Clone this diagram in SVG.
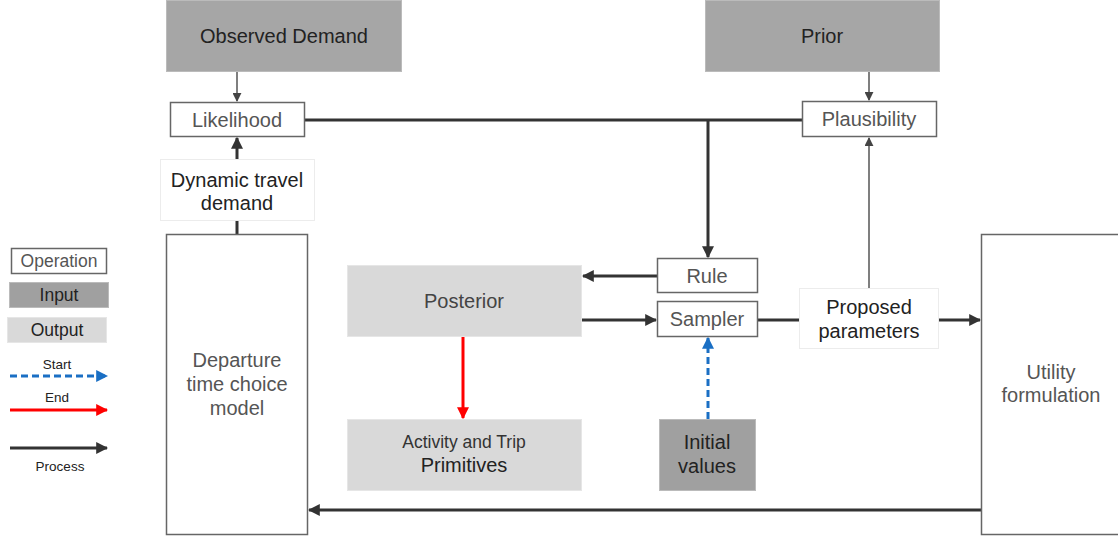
<svg xmlns="http://www.w3.org/2000/svg" width="1118" height="537" viewBox="0 0 1118 537">
  <defs>
    <style>
      text { font-family: "Liberation Sans", Arial, sans-serif; text-anchor: middle; }
      .op { fill: #ffffff; stroke: #666666; stroke-width: 1.5; }
      .op-text { fill: #555555; font-size: 20px; }
      .in { fill: #a6a6a6; stroke: #bbbbbb; stroke-width: 1; }
      .out { fill: #d9d9d9; stroke: #e6e6e6; stroke-width: 1; }
      .dark-text { fill: #222222; font-size: 20px; }
      .soft { fill: #ffffff; stroke: #ececec; stroke-width: 1; }
      .proc { stroke: #333333; stroke-width: 3; fill: none; }
      .thin { stroke: #555555; stroke-width: 1.5; fill: none; }
      .start { stroke: #1a6fc4; stroke-width: 3; stroke-dasharray: 7 4; fill: none; }
      .end { stroke: #ff0000; stroke-width: 3; fill: none; }
      .legend-label { fill: #222222; font-size: 13.5px; }
    </style>
    <marker id="ah" viewBox="0 0 10 10" refX="9" refY="5" markerWidth="4" markerHeight="4" orient="auto" markerUnits="strokeWidth">
      <path d="M0,0 L10,5 L0,10 z" fill="#333333"/>
    </marker>
    <marker id="ah-thin" viewBox="0 0 10 10" refX="9" refY="5" markerWidth="6" markerHeight="6" orient="auto" markerUnits="strokeWidth">
      <path d="M0,0 L10,5 L0,10 z" fill="#444444"/>
    </marker>
    <marker id="ah-blue" viewBox="0 0 10 10" refX="9" refY="5" markerWidth="4" markerHeight="4" orient="auto" markerUnits="strokeWidth">
      <path d="M0,0 L10,5 L0,10 z" fill="#1a6fc4"/>
    </marker>
    <marker id="ah-red" viewBox="0 0 10 10" refX="9" refY="5" markerWidth="4" markerHeight="4" orient="auto" markerUnits="strokeWidth">
      <path d="M0,0 L10,5 L0,10 z" fill="#ff0000"/>
    </marker>
  </defs>

  <rect width="1118" height="537" fill="#ffffff"/>

  <!-- connectors -->
  <g id="connectors">
    <line class="thin" x1="237" y1="72" x2="237" y2="101" marker-end="url(#ah-thin)"/>
    <line class="thin" x1="869" y1="72" x2="869" y2="100" marker-end="url(#ah-thin)"/>
    <line class="proc" x1="304" y1="120" x2="802" y2="120"/>
    <line class="proc" x1="708" y1="120" x2="708" y2="257" marker-end="url(#ah)"/>
    <line class="proc" x1="657" y1="276" x2="583" y2="276" marker-end="url(#ah)"/>
    <line class="proc" x1="581" y1="320" x2="656" y2="320" marker-end="url(#ah)"/>
    <line class="proc" x1="757" y1="320" x2="799" y2="320"/>
    <line class="proc" x1="938" y1="320" x2="980" y2="320" marker-end="url(#ah)"/>
    <line class="thin" x1="869" y1="288" x2="869" y2="138" marker-end="url(#ah-thin)"/>
    <line class="end" x1="463" y1="337" x2="463" y2="418" marker-end="url(#ah-red)"/>
    <line class="start" x1="708" y1="419" x2="708" y2="338" marker-end="url(#ah-blue)"/>
    <line class="proc" x1="981" y1="510" x2="309" y2="510" marker-end="url(#ah)"/>
    <line class="proc" x1="237" y1="234" x2="237" y2="220"/>
    <line class="proc" x1="237" y1="159" x2="237" y2="138" marker-end="url(#ah)"/>
  </g>

  <!-- nodes -->
  <g id="observed-demand">
    <rect class="in" x="166.5" y="0.5" width="235" height="71"/>
    <text class="dark-text" x="284" y="43">Observed Demand</text>
  </g>
  <g id="prior">
    <rect class="in" x="705.5" y="0.5" width="234" height="71"/>
    <text class="dark-text" x="822" y="43">Prior</text>
  </g>
  <g id="likelihood">
    <rect class="op" x="170.5" y="102.5" width="134" height="34"/>
    <text class="op-text" x="237" y="127">Likelihood</text>
  </g>
  <g id="plausibility">
    <rect class="op" x="802.5" y="101.5" width="134" height="35"/>
    <text class="op-text" x="869" y="126">Plausibility</text>
  </g>
  <g id="dynamic-travel-demand">
    <rect class="soft" x="160.5" y="159.5" width="154" height="61"/>
    <text class="dark-text" x="237" y="187">Dynamic travel</text>
    <text class="dark-text" x="237" y="210">demand</text>
  </g>
  <g id="departure-model">
    <rect class="op" x="166.5" y="234.5" width="141" height="300"/>
    <text class="op-text" x="237" y="367">Departure</text>
    <text class="op-text" x="237" y="391">time choice</text>
    <text class="op-text" x="237" y="415">model</text>
  </g>
  <g id="utility-formulation">
    <rect class="op" x="981.5" y="234.5" width="140" height="300"/>
    <text class="op-text" x="1051" y="379">Utility</text>
    <text class="op-text" x="1051" y="402">formulation</text>
  </g>
  <g id="posterior">
    <rect class="out" x="347.5" y="265.5" width="234" height="71"/>
    <text class="op-text" x="464" y="308" style="fill:#444444">Posterior</text>
  </g>
  <g id="primitives">
    <rect class="out" x="347.5" y="419.5" width="234" height="71"/>
    <text x="464" y="448" style="fill:#333333;font-size:17.5px">Activity and Trip</text>
    <text class="dark-text" x="464" y="472">Primitives</text>
  </g>
  <g id="rule">
    <rect class="op" x="657.5" y="258.5" width="100" height="34"/>
    <text class="op-text" x="707" y="283">Rule</text>
  </g>
  <g id="sampler">
    <rect class="op" x="657.5" y="301.5" width="100" height="35"/>
    <text class="op-text" x="707" y="326">Sampler</text>
  </g>
  <g id="proposed-parameters">
    <rect class="soft" x="799.5" y="288.5" width="139" height="60"/>
    <text class="dark-text" x="869" y="314">Proposed</text>
    <text class="dark-text" x="869" y="338">parameters</text>
  </g>
  <g id="initial-values">
    <rect class="in" x="659.5" y="419.5" width="96" height="71" style="fill:#a0a0a0"/>
    <text class="dark-text" x="707" y="449">Initial</text>
    <text class="dark-text" x="707" y="473">values</text>
  </g>

  <!-- legend -->
  <g id="legend">
    <rect class="op" x="11.5" y="248.5" width="95" height="25"/>
    <text x="59" y="267" style="fill:#555555;font-size:17.5px">Operation</text>
    <rect class="in" x="9.5" y="282.5" width="99" height="25" style="fill:#a0a0a0"/>
    <text x="59" y="301" style="fill:#222222;font-size:17.5px">Input</text>
    <rect class="out" x="7.5" y="317.5" width="99" height="25"/>
    <text x="57" y="336" style="fill:#222222;font-size:17.5px">Output</text>
    <text class="legend-label" x="57" y="369">Start</text>
    <line class="start" x1="10" y1="376" x2="107" y2="376" marker-end="url(#ah-blue)"/>
    <text class="legend-label" x="57" y="402">End</text>
    <line class="end" x1="10" y1="410" x2="107" y2="410" marker-end="url(#ah-red)"/>
    <line class="proc" x1="10" y1="448" x2="107" y2="448" marker-end="url(#ah)"/>
    <text class="legend-label" x="60" y="471">Process</text>
  </g>
</svg>
